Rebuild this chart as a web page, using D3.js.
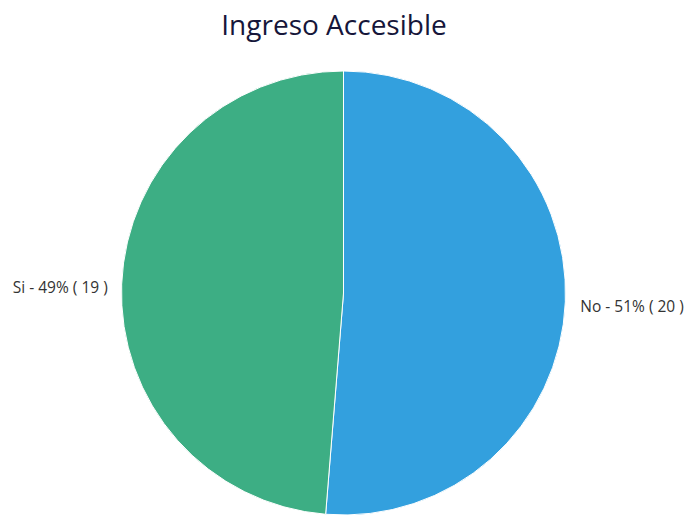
<!DOCTYPE html>
<html>
<head>
<meta charset="utf-8">
<script src="https://cdn.jsdelivr.net/npm/d3@7"></script>
<style>
  html, body { margin: 0; padding: 0; background: #fff; }
  svg { display: block; }
</style>
</head>
<body>
<svg id="chart" width="687" height="515"></svg>
<script>
// Survey answers for "Ingreso Accesible"
const categories = ["No", "Si"];
const counts = [20, 19];
const colors = ["#33a0de", "#3dae84"];

const width = 687, height = 515;
const cx = 343.5, cy = 293, radius = 222;

const svg = d3.select("#chart");

svg.append("text")
  .attr("x", 334)
  .attr("y", 35)
  .attr("text-anchor", "middle")
  .attr("font-family", "'Open Sans', sans-serif")
  .attr("font-size", 28)
  .attr("fill", "#16163a")
  .text("Ingreso Accesible");

const total = d3.sum(counts);
const data = categories.map((c, i) => ({ name: c, value: counts[i], color: colors[i] }));

const pie = d3.pie().value(d => d.value).sort(null);
const arc = d3.arc().innerRadius(0).outerRadius(radius);
const arcs = pie(data);

const g = svg.append("g").attr("transform", `translate(${cx},${cy})`);

g.selectAll("path")
  .data(arcs)
  .join("path")
  .attr("d", arc)
  .attr("fill", d => d.data.color)
  .attr("stroke", "#ffffff")
  .attr("stroke-width", 1);

// Labels sit outside the pie, beside each slice's mid-angle
const labelArc = d3.arc().innerRadius(radius + 14).outerRadius(radius + 14);
g.selectAll("text.lbl")
  .data(arcs)
  .join("text")
  .attr("class", "lbl")
  .each(function(d) {
    const mid = (d.startAngle + d.endAngle) / 2;
    const right = Math.sin(mid) > 0;
    const [x, y] = labelArc.centroid(d);
    d3.select(this)
      .attr("x", right ? x + 1 : x)
      .attr("y", y + 4)
      .attr("dy", "0.35em")
      .attr("text-anchor", right ? "start" : "end");
  })
  .attr("font-family", "'Open Sans', sans-serif")
  .attr("font-size", 15.5)
  .attr("fill", "#333")
  .text(d => `${d.data.name} - ${Math.round(d.data.value / total * 100)}% ( ${d.data.value} )`);
</script>
</body>
</html>
